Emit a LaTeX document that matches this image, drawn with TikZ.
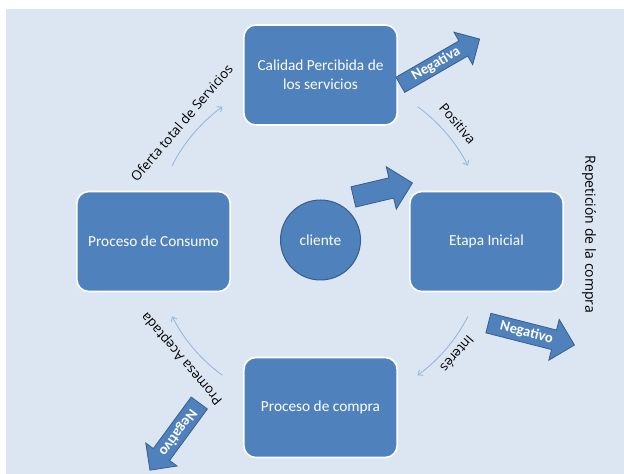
\documentclass[tikz,border=0pt]{standalone}
\usepackage{fontspec}
\setmainfont{Carlito}
\newfontfamily\etiqfont{Open Sans}
\usetikzlibrary{shapes.arrows,arrows.meta}
\definecolor{fondo}{HTML}{DCE6F2}
\definecolor{azul}{HTML}{4F81BD}
\definecolor{borde}{HTML}{385D8A}
\definecolor{gira}{HTML}{95B3D7}
\begin{document}
\begin{tikzpicture}[x=0.75pt,y=0.75pt,
    caja/.style={draw=white,line width=1.2pt,fill=azul,rounded corners=9pt,
      minimum width=115pt,minimum height=75pt,text=white,align=center,
      font=\fontsize{11.5}{14}\selectfont},
    flechon/.style={single arrow,draw=borde,line width=0.6pt,fill=azul,anchor=tail,
      inner xsep=1pt,text height=7.5pt,text depth=2pt,text=white,
      font=\fontsize{11}{13}\bfseries},
    giro/.style={draw=gira,line width=0.6pt,-{Straight Barb[length=3pt,width=5pt]}},
    etiqueta/.style={font=\etiqfont\fontsize{10}{12}\selectfont,inner sep=1pt}]
        %% Background
        \useasboundingbox (0,0) rectangle (624,474);
        \fill[fondo] (6,0) rectangle (624,465);
        \coordinate (ciclo) at (320,233);
        %% The four stages and the client
        \node[caja] (calidad) at (320.5,399) {Calidad Percibida de\\los servicios};
        \node[caja] (consumo) at (153.5,232.5) {Proceso de Consumo};
        \node[caja] (etapa) at (486.5,232.5) {Etapa Inicial};
        \node[caja] (compra) at (320.5,66.5) {Proceso de compra};
        \node[circle,draw=borde,line width=0.75pt,fill=azul,minimum size=60pt,
          text=white,font=\fontsize{11.5}{13}\selectfont] (cliente) at (320.5,234) {cliente};
        %% Block arrows
        \node[flechon,inner ysep=7.5pt,text height=0pt,text depth=0pt,
          minimum height=45.5pt,single arrow head extend=8.5pt,rotate=13.3]
          (entrada) at (353,277) {};
        \node[flechon,inner ysep=1.5pt,minimum height=68.6pt,
          single arrow head extend=7.5pt,rotate=30] (negativa) at (400,389) {Negativa};
        \node[flechon,inner ysep=2.5pt,minimum height=66.6pt,
          single arrow head extend=8.25pt,rotate=-14.3] (negativo) at (488,151) {Negativo};
        \node[flechon,inner ysep=2.5pt,minimum height=62.5pt,
          single arrow head extend=7pt,rotate=233.7] (negativo2) at (199.5,71.3) {Negativo};
        %% Cycle arrows
        \draw[giro] ([shift={(153:166)}]ciclo) arc[start angle=153,end angle=126,radius=166];
        \draw[giro] ([shift={(54:166)}]ciclo) arc[start angle=54,end angle=27,radius=166];
        \draw[giro] ([shift={(-27:166)}]ciclo) arc[start angle=-27,end angle=-54,radius=166];
        \draw[giro] ([shift={(-126:166)}]ciclo) arc[start angle=-126,end angle=-153,radius=166];
        %% Cycle labels
        \node[etiqueta,rotate=49.5] (oferta) at ([shift={(139.5:182)}]ciclo) {Oferta total de Servicios};
        \node[etiqueta,rotate=-49.5] (positiva) at ([shift={(40.5:181)}]ciclo) {Positiva};
        \node[etiqueta,rotate=-130.5] (interes) at ([shift={(-39.5:178)}]ciclo) {Interés};
        \node[etiqueta,rotate=130.5] (promesa) at ([shift={(-139.5:181)}]ciclo) {Promesa Aceptada};
        \node[etiqueta,rotate=-90,font=\etiqfont\fontsize{10.5}{12}\selectfont]
          (repeticion) at (589,239.5) {Repetición de la compra};
    \end{tikzpicture}
\end{document}
